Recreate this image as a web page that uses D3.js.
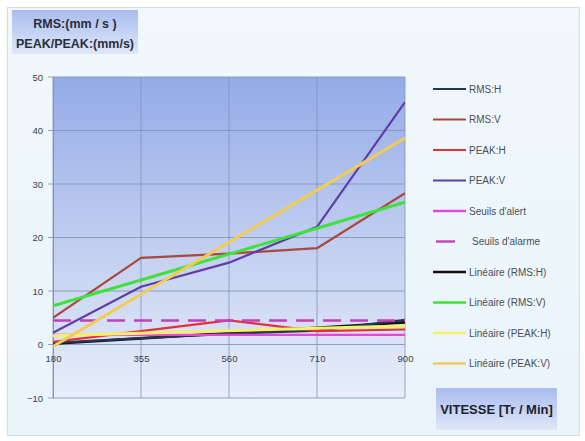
<!DOCTYPE html>
<html>
<head>
<meta charset="utf-8">
<script src="https://cdn.jsdelivr.net/npm/d3@7"></script>
<style>
  html, body { margin: 0; padding: 0; background: #ffffff; }
  svg { display: block; }
  text { font-family: "Liberation Sans Narrow", "Liberation Sans", Arial, sans-serif; }
</style>
</head>
<body>
<svg id="chart" width="585" height="441"></svg>
<script>
// Vitesse de rotation (Tr / Min)
const categories = ["180", "355", "560", "710", "900"];

// Mesures (mm/s)
const rmsH  = [0.3, 1.2, 2.0, 2.6, 4.6];
const rmsV  = [5.0, 16.2, 17.0, 18.0, 28.3];
const peakH = [0.5, 2.5, 4.5, 2.5, 2.8];
const peakV = [2.2, 10.8, 15.3, 22.0, 45.3];
const seuilAlert  = [1.8, 1.8, 1.8, 1.8, 1.8];
const seuilAlarme = [4.5, 4.5, 4.5, 4.5, 4.5];

const yTicks = [-10, 0, 10, 20, 30, 40, 50];

// Droite des moindres carrés sur l'index de catégorie (1..n), comme une courbe de tendance linéaire
function linearTrend(values) {
  const xs = values.map((_, i) => i + 1);
  const mx = d3.mean(xs), my = d3.mean(values);
  const sxy = d3.sum(xs, (x, i) => (x - mx) * (values[i] - my));
  const sxx = d3.sum(xs, x => (x - mx) * (x - mx));
  const b = sxy / sxx, a = my - b * mx;
  return xs.map(x => a + b * x);
}

const series = [
  { name: "RMS:H",  values: rmsH,  color: "#243656", width: 2.2 },
  { name: "RMS:V",  values: rmsV,  color: "#a8493f", width: 2.2 },
  { name: "PEAK:H", values: peakH, color: "#e5303c", width: 2.2 },
  { name: "PEAK:V", values: peakV, color: "#5f3ea6", width: 2.2 },
  { name: "Seuils d'alert",  values: seuilAlert,  color: "#e447d6", width: 2.4 },
  { name: "Seuils d'alarme", values: seuilAlarme, color: "#c43fb8", width: 2.4, dash: "18,9" },
  { name: "Linéaire (RMS:H)",  values: linearTrend(rmsH),  color: "#111111", width: 2.6 },
  { name: "Linéaire (RMS:V)",  values: linearTrend(rmsV),  color: "#3ee23a", width: 3 },
  { name: "Linéaire (PEAK:H)", values: linearTrend(peakH), color: "#f3f06a", width: 3 },
  { name: "Linéaire (PEAK:V)", values: linearTrend(peakV), color: "#f1cc55", width: 3 }
];

const svg = d3.select("#chart");
const defs = svg.append("defs");

const gPlot = defs.append("linearGradient").attr("id", "plotGrad")
  .attr("x1", 0).attr("y1", 0).attr("x2", 0).attr("y2", 1);
gPlot.append("stop").attr("offset", "0%").attr("stop-color", "#94abe7");
gPlot.append("stop").attr("offset", "55%").attr("stop-color", "#c3d0f0");
gPlot.append("stop").attr("offset", "100%").attr("stop-color", "#e8eefa");

const gBox = defs.append("linearGradient").attr("id", "boxGrad")
  .attr("x1", 0).attr("y1", 0).attr("x2", 0).attr("y2", 1);
gBox.append("stop").attr("offset", "0%").attr("stop-color", "#a9bcef");
gBox.append("stop").attr("offset", "100%").attr("stop-color", "#dfe7f8");

const gBg = defs.append("linearGradient").attr("id", "bgGrad")
  .attr("x1", 0).attr("y1", 0).attr("x2", 0).attr("y2", 1);
gBg.append("stop").attr("offset", "0%").attr("stop-color", "#f1f8fc");
gBg.append("stop").attr("offset", "100%").attr("stop-color", "#e9f4fa");

// Fond général
svg.append("rect").attr("x", 0).attr("y", 0).attr("width", 585).attr("height", 441).attr("fill", "#ffffff");
svg.append("rect").attr("x", 7.5).attr("y", 7.5).attr("width", 572).attr("height", 428)
  .attr("fill", "url(#bgGrad)").attr("stroke", "#d4dde6").attr("stroke-width", 1);

const plot = { left: 53, right: 405, top: 77, bottom: 398 };

const x = d3.scalePoint().domain(categories).range([plot.left, plot.right]);
const y = d3.scaleLinear().domain([-10, 50]).range([plot.bottom, plot.top]);

// Zone de tracé
svg.append("rect")
  .attr("x", plot.left).attr("y", plot.top)
  .attr("width", plot.right - plot.left).attr("height", plot.bottom - plot.top)
  .attr("fill", "url(#plotGrad)");

// Quadrillage horizontal
svg.append("g").selectAll("line").data(yTicks).join("line")
  .attr("x1", plot.left - 5).attr("x2", plot.right)
  .attr("y1", d => y(d)).attr("y2", d => y(d))
  .attr("stroke", "#8393b8").attr("stroke-width", 1.2).attr("opacity", 0.85);

// Quadrillage vertical
svg.append("g").selectAll("line").data(categories).join("line")
  .attr("x1", d => x(d)).attr("x2", d => x(d))
  .attr("y1", plot.top).attr("y2", plot.bottom)
  .attr("stroke", "#8393b8").attr("stroke-width", 1).attr("opacity", 0.8);

// Axe vertical
const yAxis = d3.axisLeft(y).tickValues(yTicks).tickSize(0).tickPadding(10);
const gy = svg.append("g").attr("transform", `translate(${plot.left},0)`).call(yAxis);
gy.select(".domain").attr("stroke", "#8393b8");
gy.selectAll("text").attr("font-size", 9.5).attr("fill", "#3a3f4a");

// Axe des catégories sur la ligne zéro
const xAxis = d3.axisBottom(x).tickSize(0).tickPadding(11);
const gx = svg.append("g").attr("transform", `translate(0,${y(0)})`).call(xAxis);
gx.select(".domain").remove();
gx.selectAll("text").attr("font-size", 9.5).attr("fill", "#3a3f4a");

// Courbes
const line = d3.line().x((d, i) => x(categories[i])).y(d => y(d));
const clip = defs.append("clipPath").attr("id", "plotClip");
clip.append("rect").attr("x", plot.left).attr("y", plot.top)
  .attr("width", plot.right - plot.left).attr("height", plot.bottom - plot.top);

const drawOrder = [6, 0, 4, 2, 8, 5, 1, 3, 7, 9];
svg.append("g").attr("clip-path", "url(#plotClip)")
  .selectAll("path").data(drawOrder.map(i => series[i])).join("path")
  .attr("d", d => line(d.values))
  .attr("fill", "none")
  .attr("stroke", d => d.color)
  .attr("stroke-width", d => d.width)
  .attr("stroke-dasharray", d => d.dash || null)
  .attr("stroke-linejoin", "round");

// Légende
const legend = svg.append("g");
series.forEach((s, i) => {
  const ly = 89 + i * 30.5;
  if (s.dash) {
    legend.append("line").attr("x1", 436).attr("x2", 455).attr("y1", ly).attr("y2", ly)
      .attr("stroke", s.color).attr("stroke-width", s.width);
  } else {
    legend.append("line").attr("x1", 433).attr("x2", 466).attr("y1", ly).attr("y2", ly)
      .attr("stroke", s.color).attr("stroke-width", Math.min(s.width, 2.4));
  }
  legend.append("text").attr("x", s.dash ? 472 : 469).attr("y", ly + 3.5)
    .attr("font-size", 10).attr("fill", "#4a4f5a").text(s.name);
});

// Titre de l'axe vertical
svg.append("rect").attr("x", 12).attr("y", 10).attr("width", 126).attr("height", 44)
  .attr("fill", "url(#boxGrad)");
svg.append("text").attr("x", 75).attr("y", 28).attr("text-anchor", "middle")
  .attr("font-size", 12.5).attr("font-weight", "bold").attr("fill", "#2a2f3a")
  .text("RMS:(mm / s )");
svg.append("text").attr("x", 75).attr("y", 48).attr("text-anchor", "middle")
  .attr("font-size", 12.5).attr("font-weight", "bold").attr("fill", "#2a2f3a")
  .text("PEAK/PEAK:(mm/s)");

// Titre de l'axe horizontal
svg.append("rect").attr("x", 436).attr("y", 388).attr("width", 121).attr("height", 42)
  .attr("fill", "url(#boxGrad)");
svg.append("text").attr("x", 496.5).attr("y", 414).attr("text-anchor", "middle")
  .attr("font-size", 13).attr("font-weight", "bold").attr("fill", "#1e222b")
  .text("VITESSE [Tr / Min]");
</script>
</body>
</html>
